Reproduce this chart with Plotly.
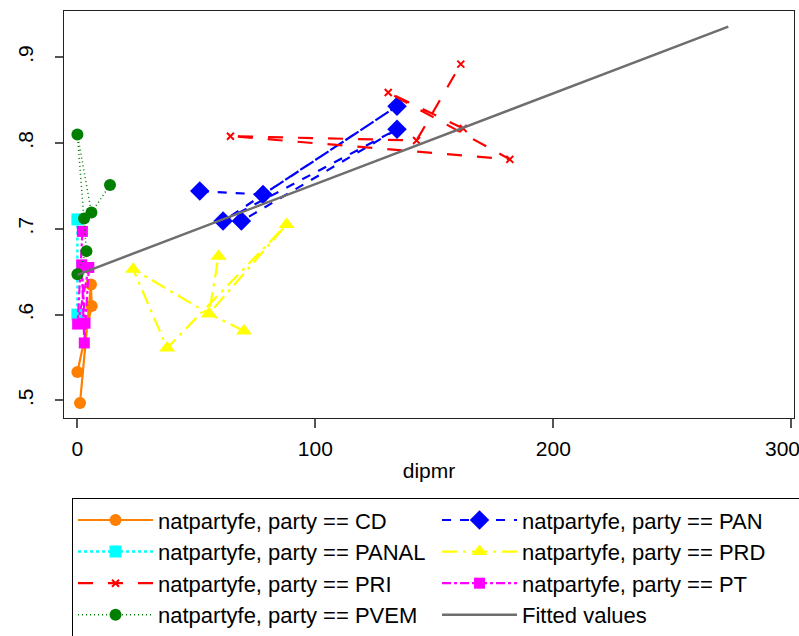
import plotly.graph_objects as go

# ---- data ----
cd_x = [0.0, 6.0, 5.7, 1.1]
cd_y = [0.533, 0.610, 0.635, 0.497]

pan_x = [51.4, 78.0, 134.3, 61.2, 134.3, 68.9]
pan_y = [0.744, 0.740, 0.843, 0.709, 0.816, 0.709]

panal_x = [0.0, 0.0]
panal_y = [0.711, 0.600]

prd_x = [70.0, 55.3, 23.4, 37.7, 87.9, 55.3, 59.3]
prd_y = [0.581, 0.601, 0.653, 0.561, 0.705, 0.601, 0.668]

pri_x = [162.1, 130.6, 181.7, 64.3, 142.5, 161.1]
pri_y = [0.817, 0.859, 0.781, 0.808, 0.803, 0.892]

pt_x = [2.1, 0.1, 4.8, 2.9, 1.8, 3.2]
pt_y = [0.697, 0.589, 0.655, 0.567, 0.658, 0.590]

pvem_x = [13.7, 5.9, 0.0, 2.8, 3.8, 0.0]
pvem_y = [0.751, 0.719, 0.810, 0.712, 0.674, 0.647]

fit_x = [0.0, 273.5]
fit_y = [0.6464, 0.9356]

x_ticks = [0, 100, 200, 300]
x_tick_text = ["0", "100", "200", "300"]
y_ticks = [0.5, 0.6, 0.7, 0.8, 0.9]
y_tick_text = [".5", ".6", ".7", ".8", ".9"]

FONT = "Liberation Sans, Arial, sans-serif"

fig = go.Figure()

def add(name, xs, ys, color, dash, width, symbol, size, line_marker=False):
    marker = dict(symbol=symbol, size=size, color=color)
    if line_marker:
        marker["line"] = dict(color=color, width=2)
    fig.add_trace(go.Scatter(
        x=xs, y=ys, mode="lines+markers", name=name,
        line=dict(color=color, dash=dash, width=width),
        marker=marker,
    ))

# order gives the two-column legend layout (row-major)
add("natpartyfe, party == CD", cd_x, cd_y, "#FF7F00", "solid", 2.2, "circle", 12)
add("natpartyfe, party == PAN", pan_x, pan_y, "#0000FF", "dash", 2.2, "diamond", 15)
add("natpartyfe, party == PANAL", panal_x, panal_y, "#00FFFF", "dot", 2.5, "square", 12)
add("natpartyfe, party == PRD", prd_x, prd_y, "#FFFF00", "longdashdot", 2.2, "triangle-up", 14)
add("natpartyfe, party == PRI", pri_x, pri_y, "#FF0000", "longdash", 2.2, "x-thin", 7, line_marker=True)
add("natpartyfe, party == PT", pt_x, pt_y, "#FF00FF", "dashdot", 2.2, "square", 11)
add("natpartyfe, party == PVEM", pvem_x, pvem_y, "#007F00", "1px,3px", 1.5, "circle", 12)
fig.add_trace(go.Scatter(
    x=fit_x, y=fit_y, mode="lines", name="Fitted values",
    line=dict(color="#6E6E6E", width=2.5),
))

# the last x tick label is drawn as an annotation, nudged left to stay inside the page
shown_x_text = x_tick_text[:-1] + [""]
fig.add_annotation(
    x=x_ticks[-1], xref="x", y=0, yref="paper",
    text=x_tick_text[-1], showarrow=False,
    xanchor="center", yanchor="middle", xshift=-9, yshift=-30,
    font=dict(family=FONT, size=21, color="black"),
)

fig.update_layout(
    width=799, height=636,
    margin=dict(l=64, r=5, t=11, b=218, autoexpand=False),
    paper_bgcolor="white", plot_bgcolor="white",
    font=dict(family=FONT, size=22, color="black"),
    showlegend=True,
    legend=dict(
        orientation="h",
        x=0.011, y=-0.197, xanchor="left", yanchor="top",
        bordercolor="black", borderwidth=1, bgcolor="white",
        font=dict(family=FONT, size=22, color="black"),
        entrywidth=274, entrywidthmode="pixels",
        itemwidth=75,
        traceorder="normal",
    ),
    xaxis=dict(
        range=[-5.63, 301.1],
        tickvals=x_ticks, ticktext=shown_x_text,
        ticks="outside", ticklen=9, tickcolor="#555555", tickwidth=1.5,
        ticklabelstandoff=3,
        showgrid=False, zeroline=False,
        showline=True, linecolor="#222222", linewidth=1, mirror=True,
        tickfont=dict(family=FONT, size=21),
        title=dict(text="dipmr", font=dict(family=FONT, size=21), standoff=4),
    ),
    yaxis=dict(
        range=[0.4795, 0.9539],
        tickvals=y_ticks, ticktext=y_tick_text,
        ticks="outside", ticklen=8, tickcolor="#555555", tickwidth=1.5,
        tickangle=-90,
        ticklabelstandoff=14,
        showgrid=False, zeroline=False,
        showline=True, linecolor="#222222", linewidth=1, mirror=True,
        tickfont=dict(family=FONT, size=21),
    ),
)

fig.write_html("out.html")
